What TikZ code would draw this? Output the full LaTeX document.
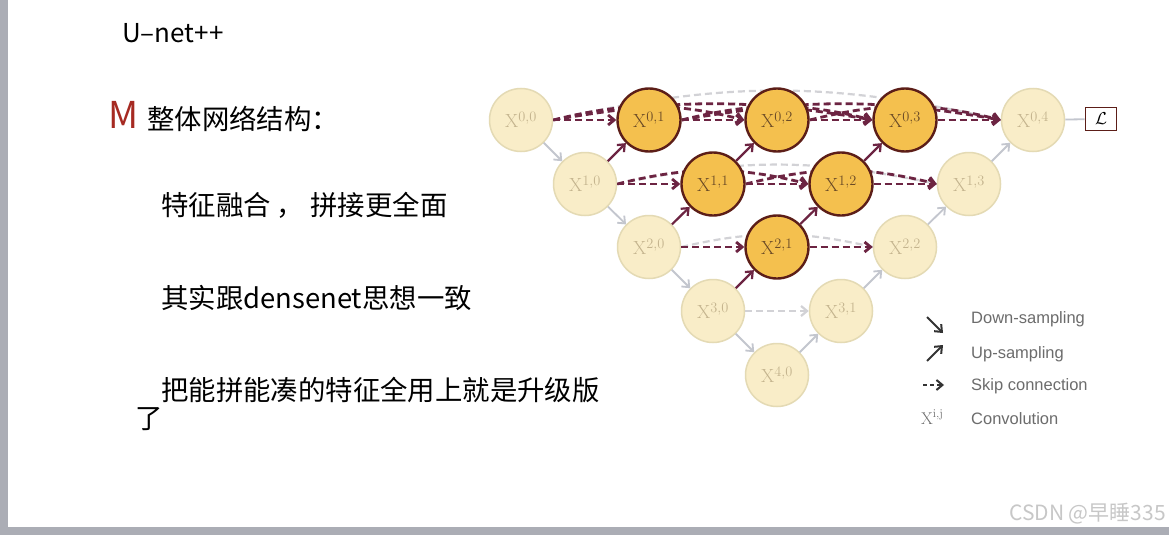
\documentclass[tikz,border=0pt]{standalone}
\usepackage{fontspec}
\usetikzlibrary{arrows.meta,backgrounds}
\newfontfamily\cjk{Noto Sans CJK SC}
\newfontfamily\lgdfont{Liberation Sans}
\definecolor{barcol}{HTML}{ABADB5}
\definecolor{paleyel}{HTML}{F9EDC8}
\definecolor{paleedge}{HTML}{E4DAB4}
\definecolor{gold}{HTML}{F4C04E}
\definecolor{brownedge}{HTML}{5C1E18}
\definecolor{maroon}{HTML}{6C2442}
\definecolor{lightarr}{HTML}{C3C6CE}
\definecolor{greydash}{HTML}{D2D2D6}
\definecolor{paletext}{HTML}{C4B48E}
\definecolor{goldtext}{HTML}{6A4A26}
\definecolor{mred}{HTML}{A62A22}
\definecolor{lgdgrey}{HTML}{6C6C6C}

\begin{document}
\begin{tikzpicture}[x=1pt, y=-1pt,
    pale/.style={circle, minimum size=63pt, inner sep=0pt, fill=paleyel, draw=paleedge,
        line width=1.5pt, text=paletext, font=\fontsize{19}{19}\selectfont},
    hot/.style={circle, minimum size=63pt, inner sep=0pt, fill=gold, draw=brownedge,
        line width=2.4pt, text=goldtext, font=\fontsize{19}{19}\selectfont},
    tip/.style={-{Straight Barb[length=6pt, width=10pt]}},
    downarr/.style={tip, lightarr, line width=1.8pt},
    uparr/.style={tip, maroon, line width=2.2pt},
    uplight/.style={tip, lightarr, line width=1.8pt},
    skipd/.style={tip, maroon, line width=2.8pt, dash pattern=on 7pt off 4pt},
    skipl/.style={tip, greydash, line width=2.2pt, dash pattern=on 7pt off 4pt},
    arcl/.style={greydash, line width=2.2pt, dash pattern=on 7pt off 4pt},
    txt/.style={anchor=base west, inner sep=0pt, font=\cjk\fontsize{27.4}{27.4}\selectfont},
    lgd/.style={anchor=base west, inner sep=0pt, text=lgdgrey, font=\lgdfont\fontsize{16.5}{16.5}\selectfont}
]
    \useasboundingbox (0,0) rectangle (1169,535);

    % 左侧文字
    \node[txt, font=\cjk\fontsize{26}{26}\selectfont] (title) at (122,42) {U–net++};
    \node[txt, text=mred, font=\cjk\fontsize{37}{37}\selectfont] (mark) at (108,128) {M};
    \node[txt] (head) at (147,129) {整体网络结构：};
    \node[txt] (line1) at (161,215) {特征融合 ， 拼接更全面};
    \node[txt] (line2) at (161,308) {其实跟densenet思想一致};
    \node[txt] (line3) at (161,400) {把能拼能凑的特征全用上就是升级版};
    \node[txt] (line3b) at (135,428) {了};

    % 编码器
    \node[pale] (x00) at (521,120) {$\mathrm{X}^{0,0}$};
    \node[pale] (x10) at (585,184) {$\mathrm{X}^{1,0}$};
    \node[pale] (x20) at (649,247) {$\mathrm{X}^{2,0}$};
    \node[pale] (x30) at (713,311) {$\mathrm{X}^{3,0}$};
    \node[pale] (x40) at (777,375) {$\mathrm{X}^{4,0}$};
    % 嵌套的中间节点
    \node[hot] (x01) at (649,120) {$\mathrm{X}^{0,1}$};
    \node[hot] (x02) at (777,120) {$\mathrm{X}^{0,2}$};
    \node[hot] (x03) at (905,120) {$\mathrm{X}^{0,3}$};
    \node[hot] (x11) at (713,184) {$\mathrm{X}^{1,1}$};
    \node[hot] (x12) at (841,184) {$\mathrm{X}^{1,2}$};
    \node[hot] (x21) at (777,247) {$\mathrm{X}^{2,1}$};
    % 解码器
    \node[pale] (x04) at (1033,120) {$\mathrm{X}^{0,4}$};
    \node[pale] (x13) at (969,184) {$\mathrm{X}^{1,3}$};
    \node[pale] (x22) at (905,247) {$\mathrm{X}^{2,2}$};
    \node[pale] (x31) at (841,311) {$\mathrm{X}^{3,1}$};
    \node[draw=brownedge, line width=1.8pt, minimum width=31pt, minimum height=23pt,
        inner sep=0pt, font=\fontsize{17}{17}\selectfont] (loss) at (1101,119) {$\mathcal{L}$};

    \begin{pgfonlayer}{background}
    \fill[white] (0,0) rectangle (1169,535);
    % 边框
    \fill[barcol] (0,0) rectangle (8,535);
    \fill[barcol] (0,527) rectangle (1169,535);
    % 长跳跃连接
    \draw[arcl] (x00.east) to[bend left=13] (x04.west);
    \draw[arcl] (x10.east) to[bend left=12] (x13.west);
    \draw[arcl] (x20.east) to[bend left=13] (x22.west);
    \draw[skipd] (x00.east) to[bend left=10] (x03.west);
    \draw[skipd] (x01.east) to[bend left=10] (x04.west);
    \draw[skipd] (x00.east) to[bend left=14] (x02.west);
    \draw[skipd] (x01.east) to[bend left=14] (x03.west);
    \draw[skipd] (x02.east) to[bend left=14] (x04.west);
    \draw[skipd] (x10.east) to[bend left=14] (x12.west);
    \draw[skipd] (x11.east) to[bend left=14] (x13.west);
    \end{pgfonlayer}

    % 相邻跳跃连接
    \draw[skipd] (x00) -- (x01);
    \draw[skipd] (x01) -- (x02);
    \draw[skipd] (x02) -- (x03);
    \draw[skipd] (x03) -- (x04);
    \draw[skipd] (x10) -- (x11);
    \draw[skipd] (x11) -- (x12);
    \draw[skipd] (x12) -- (x13);
    \draw[skipd] (x20) -- (x21);
    \draw[skipd] (x21) -- (x22);
    \draw[skipl] (x30) -- (x31);

    % 下采样
    \draw[downarr] (x00) -- (x10);
    \draw[downarr] (x10) -- (x20);
    \draw[downarr] (x20) -- (x30);
    \draw[downarr] (x30) -- (x40);
    % 上采样
    \draw[uparr] (x10) -- (x01);
    \draw[uparr] (x20) -- (x11);
    \draw[uparr] (x11) -- (x02);
    \draw[uparr] (x30) -- (x21);
    \draw[uparr] (x21) -- (x12);
    \draw[uparr] (x12) -- (x03);
    \draw[uplight] (x40) -- (x31);
    \draw[uplight] (x31) -- (x22);
    \draw[uplight] (x22) -- (x13);
    \draw[uplight] (x13) -- (x04);
    \draw[lightarr, line width=1.8pt] (x04) -- (loss);

    % 图例
    \draw[tip, black!80, line width=2pt] (927,317) -- (943,333);
    \node[lgd] (ldown) at (971,323) {Down-sampling};
    \draw[tip, black!80, line width=2pt] (927,361) -- (943,345);
    \node[lgd] (lup) at (971,358) {Up-sampling};
    \draw[tip, black!80, line width=2pt, dash pattern=on 4pt off 3pt] (923,385) -- (944,385);
    \node[lgd] (lskip) at (971,390) {Skip connection};
    \node[anchor=base west, inner sep=0pt, text=lgdgrey, font=\fontsize{17}{17}\selectfont]
        (lconv) at (921,424) {$\mathrm{X}^{\mathrm{i,j}}$};
    \node[lgd] (lconvtxt) at (971,424) {Convolution};

    % 水印
    \node[anchor=base east, inner sep=0pt, text=black!22, font=\cjk\fontsize{21}{21}\selectfont]
        (mark2) at (1166,520) {CSDN @早睡335};
\end{tikzpicture}
\end{document}
